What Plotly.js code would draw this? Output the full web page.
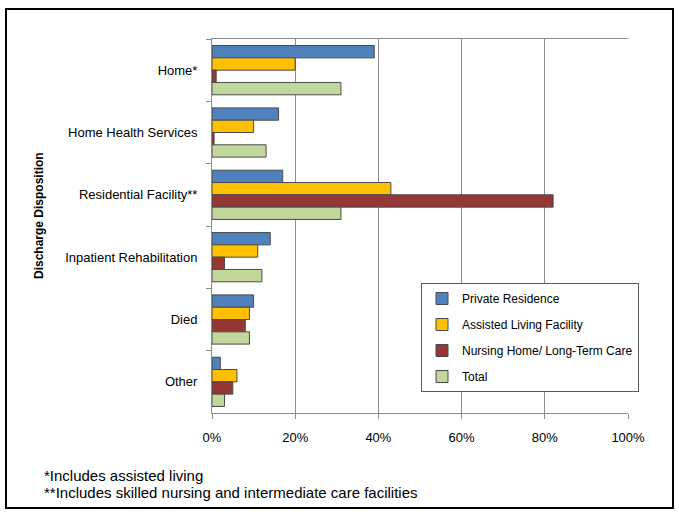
<!DOCTYPE html>
<html>
<head>
<meta charset="utf-8">
<script src="https://cdn.plot.ly/plotly-3.0.1.min.js"></script>
<style>html,body{margin:0;padding:0;background:#fff;}#chart{width:679px;height:515px;}</style>
</head>
<body>
<div id="chart"></div>
<script>
const categories = ["Home*", "Home Health Services", "Residential Facility**", "Inpatient Rehabilitation", "Died", "Other"];
const privateResidence = [39, 16, 17, 14, 10, 2];
const assistedLiving = [20, 10, 43, 11, 9, 6];
const nursingHome = [1, 0.5, 82, 3, 8, 5];
const total = [31, 13, 31, 12, 9, 3];
const seriesNames = ["Private Residence", "Assisted Living Facility", "Nursing Home/ Long-Term Care", "Total"];
const seriesColors = ["#4F81BD", "#FFC000", "#953735", "#C3D69B"];
const xTickVals = [0, 20, 40, 60, 80, 100];
const xTickText = ["0%", "20%", "40%", "60%", "80%", "100%"];
const yAxisTitle = "Discharge Disposition";
const footnotes = ["*Includes assisted living", "**Includes skilled nursing and intermediate care facilities"];

const FONT = '"Liberation Sans", Arial, sans-serif';
const seriesValues = [privateResidence, assistedLiving, nursingHome, total];

const traces = seriesValues.map((vals, i) => ({
  type: 'bar',
  orientation: 'h',
  name: seriesNames[i],
  y: categories,
  x: vals,
  legendgroup: 'g' + i,
  marker: {color: seriesColors[i], line: {color: '#4a4a4a', width: 1}},
  hoverinfo: 'x+y'
}));

const L = 212, R = 51, T = 39, B = 102, W = 679, H = 515;
const pw = W - L - R, ph = H - T - B;
const px = x => (x - L) / pw;
const py = y => (H - B - y) / ph;

const notes = footnotes.map((t, i) => ({
  text: t, xref: 'paper', yref: 'paper',
  x: px(42), y: py(475 + i * 17), xanchor: 'left', yanchor: 'middle',
  showarrow: false, font: {family: FONT, size: 15, color: '#000'}
}));
notes.push({
  text: '<b>' + yAxisTitle + '</b>', xref: 'paper', yref: 'paper',
  x: px(39), y: py(216), xanchor: 'center', yanchor: 'middle', textangle: -90,
  showarrow: false, font: {family: FONT, size: 12, color: '#000'}
});

const layout = {
  width: W, height: H,
  margin: {l: L, r: R, t: T, b: B, pad: 0},
  paper_bgcolor: '#fff', plot_bgcolor: '#fff',
  font: {family: FONT, size: 13, color: '#000'},
  barmode: 'group',
  bargap: 0.21,
  bargroupgap: 0,
  showlegend: true,
  legend: {
    x: px(421), y: py(283), xanchor: 'left', yanchor: 'top',
    bordercolor: '#595959', borderwidth: 1, bgcolor: '#fff',
    font: {family: FONT, size: 12, color: '#000'},
    traceorder: 'grouped', tracegroupgap: 7
  },
  xaxis: {
    range: [0, 100], tickmode: 'array', tickvals: xTickVals, ticktext: xTickText,
    showgrid: true, gridcolor: '#8c8c8c', gridwidth: 1,
    showline: true, linecolor: '#8c8c8c', linewidth: 1, mirror: true,
    ticks: 'outside', ticklen: 5, tickcolor: '#8c8c8c',
    ticklabelstandoff: 7,
    tickfont: {family: FONT, size: 13, color: '#000'},
    zeroline: false, fixedrange: true
  },
  yaxis: {
    type: 'category', autorange: 'reversed',
    showline: true, linecolor: '#8c8c8c', linewidth: 1,
    ticks: 'outside', ticklen: 5, tickcolor: '#8c8c8c', tickson: 'boundaries',
    ticklabelstandoff: 11,
    tickfont: {family: FONT, size: 13, color: '#000'},
    showgrid: false, zeroline: false, fixedrange: true
  },
  shapes: [{
    type: 'rect', xref: 'paper', yref: 'paper',
    x0: px(6), x1: px(673), y0: py(508), y1: py(9),
    line: {color: '#000', width: 2}, fillcolor: 'rgba(0,0,0,0)', layer: 'above'
  }],
  annotations: notes
};

Plotly.newPlot('chart', traces, layout, {displayModeBar: false, staticPlot: true});
</script>
</body>
</html>
